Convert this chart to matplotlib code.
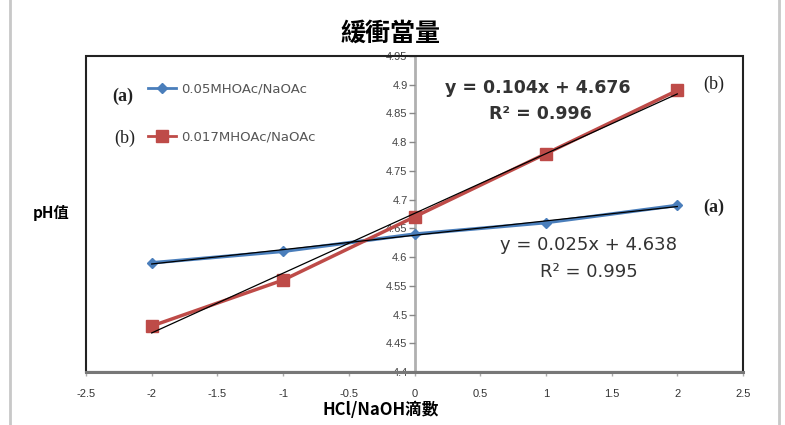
import numpy as np
import matplotlib
matplotlib.use("Agg")
import matplotlib.pyplot as plt
from matplotlib.patches import Rectangle
from matplotlib.lines import Line2D

plt.rcParams['font.family'] = ['Liberation Sans', 'Noto Sans CJK TC', 'DejaVu Sans']

# ---- data ----
drops = [-2, -1, 0, 1, 2]
ph_a = [4.59, 4.61, 4.64, 4.66, 4.69]
ph_b = [4.48, 4.56, 4.67, 4.78, 4.89]
label_a = "0.05MHOAc/NaOAc"
label_b = "0.017MHOAc/NaOAc"
title = "緩衝當量"
xlabel = "HCl/NaOH滴數"
ylabel = "pH值"
xticks = [-2.5, -2, -1.5, -1, -0.5, 0, 0.5, 1, 1.5, 2, 2.5]
yticks = [4.4, 4.45, 4.5, 4.55, 4.6, 4.65, 4.7, 4.75, 4.8, 4.85, 4.9, 4.95]

blue = "#4a7ebb"
red = "#be4b48"

fig = plt.figure(figsize=(7.85, 4.25), dpi=100)
ax = fig.add_axes([86/785, 1-372/425, (743-86)/785, (372-56)/425])

x = np.array(drops, dtype=float)
ax.plot(x, ph_a, color=blue, lw=2.5, marker="D", ms=5.5, zorder=3)
ax.plot(x, ph_b, color=red, lw=2.5, marker="s", ms=8.5, zorder=3)

# trendlines
ca = np.polyfit(x, ph_a, 1)
cb = np.polyfit(x, ph_b, 1)
xx = np.array([x.min(), x.max()])
ax.plot(xx, np.polyval(ca, xx), color="black", lw=0.9, zorder=4)
ax.plot(xx, np.polyval(cb, xx), color="black", lw=0.9, zorder=4)

ax.set_xlim(-2.5, 2.5)
ax.set_ylim(4.4, 4.95)
ax.set_xticks(xticks)
ax.set_xticklabels([f"{v:g}" for v in xticks])
ax.set_yticks(yticks)
ax.set_yticklabels([f"{v:g}" for v in yticks])

for s in ["top", "right", "bottom"]:
    ax.spines[s].set_visible(False)
ax.spines["left"].set_position(("data", 0))
ax.spines["left"].set_color("#b0b0b0")
ax.spines["left"].set_linewidth(2)
ax.spines["left"].set_zorder(1)

ax.tick_params(axis="y", direction="out", length=4, width=1, color="#888888",
               labelsize=8, labelcolor="#444444", pad=1)
ax.tick_params(axis="x", direction="out", length=3, width=1, color="#aaaaaa",
               labelsize=8, labelcolor="#333333", pad=9)

# frame
ax.add_patch(Rectangle((0, 0), 1, 1, transform=ax.transAxes, fill=False,
                       edgecolor="#222222", lw=1.5, clip_on=False, zorder=5))
ax.plot([0, 1], [0, 0], transform=ax.transAxes, color="#777777", lw=2.2,
        clip_on=False, zorder=6)

# labels
fig.text(390/785, 1-34/425, title, ha="center", va="center", fontsize=18,
         fontweight="bold", family=["Noto Sans CJK TC"])
fig.text(381/785, 1-410/425, xlabel, ha="center", va="center", fontsize=12,
         fontweight="bold", family=["Noto Sans CJK TC"])
fig.text(51/785, 1-213/425, ylabel, ha="center", va="center", fontsize=11,
         fontweight="bold", family=["Noto Sans CJK TC"])

# legend
h_a = Line2D([], [], color=blue, lw=2, marker="D", ms=5)
h_b = Line2D([], [], color=red, lw=2, marker="s", ms=8)
leg = ax.legend([h_a, h_b], [label_a, label_b], loc="upper left",
                bbox_to_anchor=(62/657, 1-27/316), frameon=False,
                prop={"family": "DejaVu Sans", "size": 9.5},
                labelspacing=2.6, handlelength=2.1,
                handletextpad=0.4, borderaxespad=0, borderpad=0)
for t in leg.get_texts():
    t.set_color("#555555")

serif = ["Liberation Serif"]
fig.text(123/785, 1-96/425, "(a)", ha="center", va="center", fontsize=13,
         family=serif, fontweight="bold", color="#222222")
fig.text(125/785, 1-138/425, "(b)", ha="center", va="center", fontsize=13,
         family=serif, color="#222222")
fig.text(714/785, 1-84/425, "(b)", ha="center", va="center", fontsize=13,
         family=serif, color="#222222")
fig.text(714/785, 1-207/425, "(a)", ha="center", va="center", fontsize=13,
         family=serif, fontweight="bold", color="#222222")

# trendline equations
eqfont = ["DejaVu Sans"]
fig.text(538/785, 1-88/425, f"y = {cb[0]:.3f}x + {cb[1]:.3f}", ha="center",
         va="center", fontsize=12.5, fontweight="bold", color="#333333",
         family=eqfont)
fig.text(540/785, 1-114/425, "R² = 0.996", ha="center", va="center",
         fontsize=12.5, fontweight="bold", color="#333333", family=eqfont)
fig.text(589/785, 1-245/425, f"y = {ca[0]:.3f}x + {ca[1]:.3f}", ha="center",
         va="center", fontsize=13, color="#333333", family=eqfont)
fig.text(589/785, 1-272/425, "R² = 0.995", ha="center", va="center",
         fontsize=13, color="#333333", family=eqfont)

# outer gray border lines
fig.add_artist(Line2D([10/785, 10/785], [0, 1], color="#c8c8c8", lw=2))
fig.add_artist(Line2D([779/785, 779/785], [0, 1], color="#c8c8c8", lw=2))

fig.savefig("out.png", dpi=100)
